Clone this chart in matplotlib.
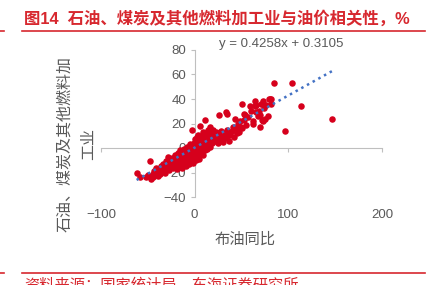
import matplotlib
matplotlib.use('Agg')
import matplotlib.pyplot as plt
import numpy as np

plt.rcParams['font.family'] = ['Liberation Sans', 'Noto Sans CJK SC', 'DejaVu Sans']

# brent yoy (x) vs petroleum/coal processing industry yoy (y), %
brent = [-62, -58, -52, -50, -48, -47, -46, -45, -44, -43, -42, -41, -40, -39, -38, -37,
         -36, -35, -34, -33, -32, -31, -30, -29, -28, -27, -26, -25, -24, -23, -22, -21,
         -20, -19, -19, -18, -18, -17, -17, -16, -16, -15, -15, -14, -14, -13, -13, -12,
         -12, -11, -11, -10, -10, -9, -9, -8, -8, -7, -7, -6, -6, -5, -5, -4, -4, -3,
         -3, -3, -2, -2, -1, -1, 0, 0, 0,
         1, 1, 2, 2, 3, 3, 3, 4, 4, 5, 5, 6, 6, 6, 7, 7, 8, 8, 9, 9, 10, 10, 11, 11,
         12, 12, 13, 13, 14, 14, 15, 15, 16, 16, 17, 18, 18, 19, 20, 20,
         21, 22, 23, 24, 25, 26, 26, 27, 28, 29, 30, 31, 32, 33, 34, 34, 35, 36, 37, 38,
         40, 41, 42, 43, 44, 45, 46, 47, 48, 49, 50, 51,
         53, 53, 54, 55, 57, 59, 60, 62, 62, 64, 64, 65, 66, 68, 69, 70, 70, 71, 72, 73,
         73, 74, 75, 76, 78, 79, 80, 81, 82, 85, 96, 104, 113, 147]
industry = [-20, -24, -24, -22, -11, -25, -23, -21, -24, -19, -22, -16, -20, -23, -18, -21,
            -15, -19, -13, -17, -20, -11, -16, -7, -13, -18, -10, -14, -8, -16, -11, -6,
            -13, -9, -17, -4, -12, -7, -15, -10, -2, -13, -6, -9, -16, -3, -11, -7,
            -14, -1, -9, -5, -12, -15, -3, -8, 1, -11, -5, -1, -13, -7, 3, -10, -3, 15,
            -6, 1, -12, -4, 4, -8, -2, -6, 7,
            -10, 2, -4, 9, -7, 0, 5, -2, 11, -9, 3, -5, 7, 18, 1, -3, 10, 4, -6, 13, 2, 8, 23, -2,
            5, 12, 9, -1, 15, 3, 7, 11, 17, 1, 6, 10, 13, 4, 8, 15,
            11, 6, 13, 9, 4, 27, 12, 7, 14, 10, 5, 12, 8, 29, 28, 15, 10, 13, 6, 11,
            14, 17, 9, 24, 16, 12, 20, 13, 22, 17, 36, 16,
            28, 23, 27, 19, 25, 34, 30, 22, 20, 34, 38, 29, 35, 26, 30, 17, 27, 36, 23, 22,
            38, 33, 24, 35, 26, 40, 40, 40, 36, 53, 14, 53, 34, 24]
slope = 0.4258
intercept = 0.3105

red = '#D7282F'
grey = '#595959'
axcol = '#BFBFBF'

fig = plt.figure(figsize=(4.33, 2.85), dpi=100)
ax = fig.add_axes([101 / 433, 88 / 285, 281 / 433, 147 / 285])

ax.scatter(brent, industry, s=22, color='#D6001C', linewidths=0, zorder=3)

# excel-style linear trendline over the data range
xt = np.array([min(brent), max(brent)])
ax.plot(xt, slope * xt + intercept, color='#4472C4', linestyle=(0, (1, 1.6)),
        linewidth=1.8, zorder=4)

ax.set_xlim(-100, 200)
ax.set_ylim(-40, 80)
ax.set_xticks([-100, 0, 100, 200])
ax.set_yticks([-40, -20, 0, 20, 40, 60, 80])

ax.spines['top'].set_visible(False)
ax.spines['right'].set_visible(False)
ax.spines['left'].set_position(('data', 0))
ax.spines['bottom'].set_position(('data', 0))
ax.spines['left'].set_color(axcol)
ax.spines['bottom'].set_color(axcol)
ax.tick_params(axis='y', colors=axcol, labelcolor=grey, labelsize=9.5, length=3, pad=3)
ax.tick_params(axis='x', colors=axcol, labelcolor=grey, labelsize=9.5, length=3, pad=41)

fig.text(0.65, 0.846, 'y = 0.4258x + 0.3105', color=grey, fontsize=9.5,
         ha='center', va='center')
fig.text(0.566, 0.158, '布油同比', color=grey, fontsize=11, ha='center', va='center')
# wrapped y title, two rotated lines
fig.text(65 / 433, 0.495, '石油、煤炭及其他燃料加', color=grey, fontsize=11.5,
         rotation=90, ha='center', va='center')
fig.text(88 / 433, 0.495, '工业', color=grey, fontsize=11.5,
         rotation=90, ha='center', va='center')

# report frame: title, rules and source
fig.text(0.055, 0.937, '图14  石油、煤炭及其他燃料加工业与油价相关性，%', color=red,
         fontsize=11.8, fontweight='bold', ha='left', va='center')
fig.add_artist(plt.Line2D([22 / 433, 425 / 433], [0.891, 0.891], color=red, lw=1.2))
fig.add_artist(plt.Line2D([0, 4 / 433], [0.891, 0.891], color=red, lw=1.2))
fig.add_artist(plt.Line2D([22 / 433, 425 / 433], [0.042, 0.042], color=red, lw=1.2))
fig.add_artist(plt.Line2D([0, 4 / 433], [0.042, 0.042], color=red, lw=1.2))
fig.text(0.055, 0.0, '资料来源：国家统计局，东海证券研究所', color=red, fontsize=11,
         ha='left', va='center')

fig.savefig('out.png', dpi=100)
